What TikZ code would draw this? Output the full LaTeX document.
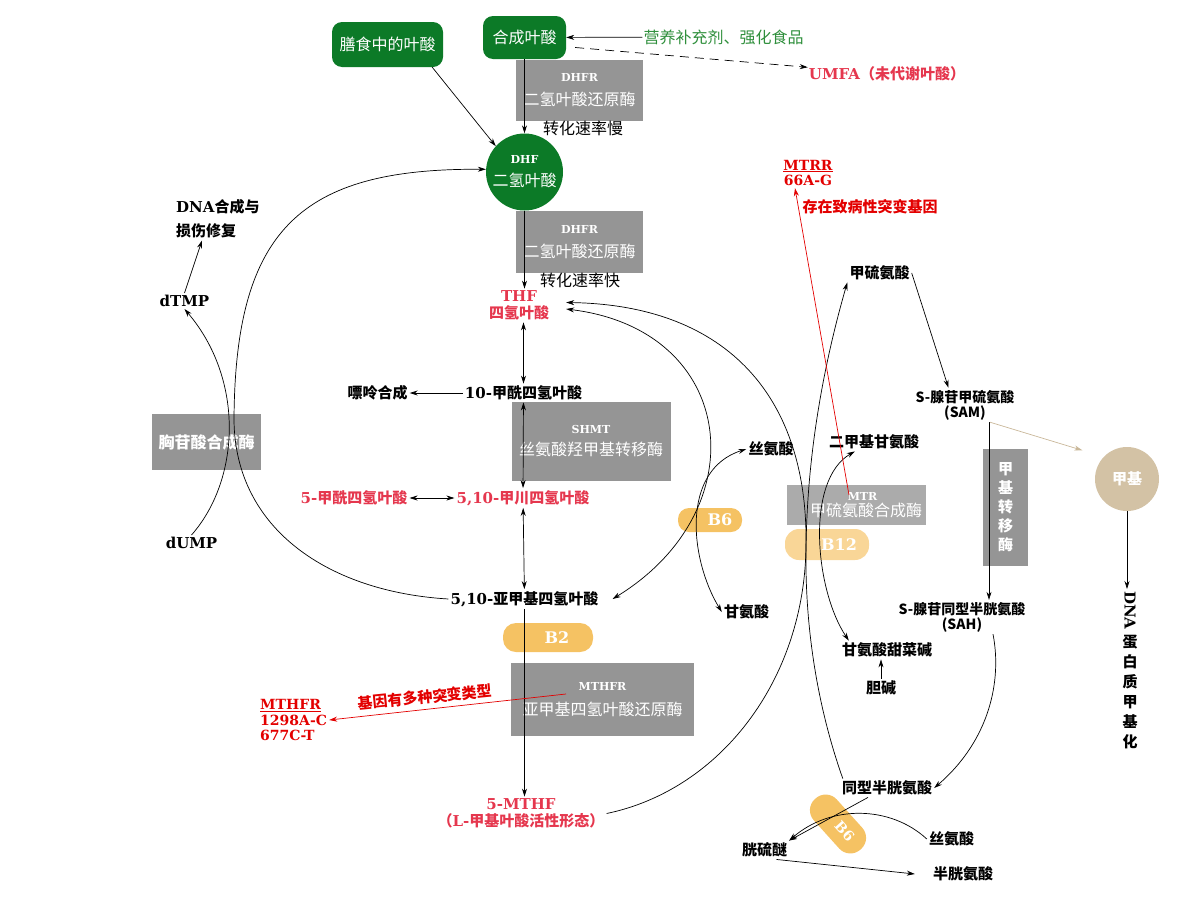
\documentclass[tikz,border=0pt]{standalone}
\usepackage{fontspec}
\setmainfont{Noto Sans CJK SC}
\newfontfamily\lat{DejaVu Serif}
\usetikzlibrary{arrows.meta}

\definecolor{leafgreen}{HTML}{0C7A27}
\definecolor{suppgreen}{HTML}{2F8F3C}
\definecolor{folred}{HTML}{E5374E}
\definecolor{genered}{HTML}{E30000}
\definecolor{enzgray}{HTML}{959595}
\definecolor{mtrgray}{HTML}{ABABAB}
\definecolor{vitorange}{HTML}{F5C263}
\definecolor{vitlight}{HTML}{F9D697}
\definecolor{methtan}{HTML}{D3C2A5}
\definecolor{tanline}{HTML}{C9B799}

\newcommand\enzlabel[2]{{\lat\bfseries\fontsize{11}{13}\selectfont #1}\\#2}

\tikzset{
  flow/.style={-{Stealth[length=8pt,width=5pt]},line width=0.7pt},
  both/.style={{Stealth[length=8pt,width=5pt]}-{Stealth[length=8pt,width=5pt]},line width=0.7pt},
  folbox/.style={fill=leafgreen,text=white,rounded corners=10pt,inner sep=0pt,font=\fontsize{16}{18}\selectfont},
  enzbox/.style={fill=enzgray,text=white,inner sep=0pt,align=center,font=\fontsize{16}{24}\selectfont},
  pill/.style={fill=vitorange,text=white,inner sep=0pt,rounded corners=13pt,font=\lat\bfseries\fontsize{16}{16}\selectfont},
  metab/.style={inner sep=2pt,font=\bfseries\fontsize{15}{17}\selectfont},
  folate/.style={metab,text=folred,align=center},
  note/.style={inner sep=1pt,font=\fontsize{16}{18}\selectfont},
  gene/.style={text=genered,inner sep=2pt,font=\lat\bfseries\fontsize{14}{15.5}\selectfont},
  genenote/.style={text=genered,inner sep=1pt,font=\bfseries\fontsize{15}{17}\selectfont},
}

\begin{document}
\begin{tikzpicture}[x=1pt,y=-1pt]
\useasboundingbox (0,0) rectangle (1200,900);
\node[folbox,minimum width=111pt,minimum height=45pt] (diet) at (387.5,44.5) {膳食中的叶酸};
\node[folbox,minimum width=83pt,minimum height=43pt] (synth) at (524.5,37.5) {合成叶酸};
\node[text=suppgreen,note] (supp) at (723.5,37) {营养补充剂、强化食品};
\node[text=folred,inner sep=1pt,font=\bfseries\fontsize{15}{17}\selectfont] (umfa) at (887,74) {{\lat UMFA}（未代谢叶酸）};
\node[enzbox,minimum width=127pt,minimum height=61pt] (dhfr1) at (579.5,90.5) {\enzlabel{DHFR}{二氢叶酸还原酶}};
\node[note] (slow) at (583,128) {转化速率慢};
\node[circle,fill=leafgreen,text=white,minimum size=77pt,inner sep=0pt,align=center,font=\fontsize{16}{23}\selectfont] (dhf) at (524.5,172) {\enzlabel{DHF}{二氢叶酸}};
\node[enzbox,minimum width=127pt,minimum height=62pt] (dhfr2) at (579.5,242) {\enzlabel{DHFR}{二氢叶酸还原酶}};
\node[note] (fast) at (580,280) {转化速率快};
\node[folate,inner xsep=17pt] (thf) at (519,305.5) {{\lat THF}\\四氢叶酸};
\node[metab] (fmthf) at (523.5,393) {{\lat 10-}甲酰四氢叶酸};
\node[metab] (purine) at (377.5,393) {嘌呤合成};
\node[enzbox,minimum width=159pt,minimum height=79pt,font=\fontsize{16}{22}\selectfont] (shmt) at (591,441.5) {\enzlabel{SHMT}{丝氨酸羟甲基转移酶}};
\node[folate] (methenyl) at (523,498) {{\lat 5,10-}甲川四氢叶酸};
\node[folate] (formyl) at (354,498) {{\lat 5-}甲酰四氢叶酸};
\node[metab] (methylene) at (524.5,599) {{\lat 5,10-}亚甲基四氢叶酸};
\node[pill,minimum width=90pt,minimum height=29pt] (b2) at (548,637.5) {\hspace*{18pt}B2};
\node[enzbox,minimum width=183pt,minimum height=73pt,font=\fontsize{16}{25}\selectfont] (mthfr) at (602.5,699.5) {\enzlabel{MTHFR}{亚甲基四氢叶酸还原酶}};
\node[folate] (mthf) at (521,813.5) {{\lat 5-MTHF}\\（{\lat L-}甲基叶酸活性形态）};
\node[gene,align=left,anchor=west] (mthfrgene) at (258,720) {\underline{MTHFR}\\1298A-C\\677C-T};
\node[genenote,rotate=5.6] (mthfrnote) at (425,697) {基因有多种突变类型};
\node[enzbox,minimum width=109pt,minimum height=56pt,font=\bfseries\fontsize{16}{18}\selectfont] (thys) at (206.5,442) {胸苷酸合成酶};
\node[metab,font=\lat\bfseries\fontsize{15}{17}\selectfont] (dump) at (191.5,543) {dUMP};
\node[metab,font=\lat\bfseries\fontsize{15}{17}\selectfont] (dtmp) at (184.5,301) {dTMP};
\node[metab,align=left,anchor=west,font=\bfseries\fontsize{15}{24}\selectfont] (dnarepair) at (174,219) {{\lat DNA}合成与\\损伤修复};
\node[metab] (met) at (879.5,273) {甲硫氨酸};
\node[metab,align=center,font=\bfseries\fontsize{14}{15}\selectfont] (sam) at (965,405) {S-腺苷甲硫氨酸\\(SAM)};
\node[metab,align=center,font=\bfseries\fontsize{14}{15}\selectfont] (sah) at (962,617) {S-腺苷同型半胱氨酸\\(SAH)};
\node[enzbox,minimum width=45pt,minimum height=117pt,font=\bfseries\fontsize{15}{19}\selectfont] (mtase) at (1005.5,507.5) {甲\\基\\转\\移\\酶};
\node[circle,fill=methtan,text=white,minimum size=64pt,inner sep=0pt,font=\bfseries\fontsize{15}{17}\selectfont] (methyl) at (1127,479) {甲基};
\node[metab,align=center,anchor=north,font=\bfseries\fontsize{15}{20}\selectfont] (dnameth) at (1130,589) {\rotatebox{-90}{\lat DNA}\\[5pt]蛋\\白\\质\\甲\\基\\化};
\node[metab] (dmg) at (874,442) {二甲基甘氨酸};
\node[metab] (ser) at (771,449) {丝氨酸};
\node[metab] (gly) at (746.5,612) {甘氨酸};
\node[pill,minimum width=64pt,minimum height=24pt,rounded corners=11pt] (b6) at (710,520) {\hspace*{20pt}B6};
\node[fill=mtrgray,text=white,inner sep=0pt,minimum width=139pt,minimum height=40pt,align=center,font=\fontsize{16}{16}\selectfont] (mtr) at (856.5,505) {\hspace*{12pt}{\lat\bfseries\fontsize{11}{12}\selectfont MTR}\\\hspace*{19pt}甲硫氨酸合成酶};
\node[pill,fill=vitlight,minimum width=84pt,minimum height=31pt,rounded corners=14pt] (b12) at (827,544.5) {\hspace*{24pt}B12};
\node[metab] (betaine) at (887,650) {甘氨酸甜菜碱};
\node[metab] (choline) at (881,688) {胆碱};
\node[metab] (hcy) at (887,788) {同型半胱氨酸};
\node[metab] (cysta) at (764.5,850) {胱硫醚};
\node[metab] (ser2) at (951.5,839) {丝氨酸};
\node[metab] (cys) at (963,874) {半胱氨酸};
\node[pill,rotate=-48,minimum width=68pt,minimum height=31pt,rounded corners=15pt,font=\lat\bfseries\fontsize{14}{14}\selectfont] (b6cys) at (838,824) {\hspace*{20pt}B6};
\node[gene,align=center] (mtrr) at (808,173) {\underline{MTRR}\\66A-G};
\node[genenote] (mtrrnote) at (870,207) {存在致病性突变基因};
\draw[flow] (supp) -- (synth);
\draw[flow,dash pattern=on 9pt off 6pt] ([shift={(9,10)}]synth.east) -- (umfa);
\draw[flow] (synth) -- (dhf);
\draw[flow] ([xshift=-11pt]diet.south east) -- (dhf.138);
\draw[flow] (dhf) -- (dhf |- thf.north);
\draw[both] (thf.south -| fmthf) -- (fmthf);
\draw[flow] (fmthf) -- (purine);
\draw[both] (fmthf) -- (methenyl);
\draw[both] (formyl) -- (methenyl);
\draw[both] (methenyl) -- (methylene);
\draw[flow] (methylene) -- (methylene |- mthf.north);
\draw[flow] (methylene.west) .. controls (330,592) and (235,530) .. (234,420) .. controls (235,230) and (300,168) .. (dhf.176);
\draw[flow] (dump.north) .. controls (240,480) and (245,380) .. (dtmp.south);
\draw[flow] (dtmp.north) -- ([xshift=28pt]dnarepair.south west);
\draw[flow] (mthf.east) .. controls (720,790) and (805,680) .. (806,545) .. controls (808,400) and (730,305) .. ([yshift=3pt]thf.east);
\draw[both] ([yshift=-3.5pt]thf.east) .. controls (738,330) and (758,510) .. ([xshift=12pt]methylene.east);
\draw[both] (gly.west) .. controls (690,560) and (680,470) .. (ser.west);
\draw[flow] ([xshift=3pt]hcy.north west) .. controls (815,700) and (805,620) .. (806,550) .. controls (807,450) and (825,360) .. (met.south west);
\draw[both] ([xshift=9pt]betaine.north west) .. controls (815,590) and (805,480) .. ([xshift=28pt]dmg.south west);
\draw[flow] (choline) -- (choline |- betaine.south);
\draw[flow] (met.east) -- ([xshift=35pt]sam.north west);
\draw[flow] ([xshift=24pt]sam.south) -- ([xshift=24pt]sam.south |- sah.north);
\draw[flow,tanline] ([xshift=25pt]sam.south) -- ([shift={(-20,-8)}]methyl.140);
\draw[flow] (methyl) -- (methyl |- dnameth.north);
\draw[flow] ([xshift=31pt]sah.south) .. controls (1002,680) and (990,740) .. (hcy.east);
\draw[flow,genered] ([shift={(-7.5,-10)}]mtr.center) -- ([xshift=-13pt]mtrr.south);
\draw[flow,genered] ([shift={(-36.5,-5.5)}]mthfr.center) -- (mthfrgene.east);
\draw[flow] ([xshift=-19pt]hcy.south) -- (cysta.north east);
\draw[flow] (ser2.west) .. controls (890,805) and (830,805) .. (cysta.north east);
\draw[flow] ([xshift=12pt]cysta.south) -- ([xshift=-16pt]cys.west);
\end{tikzpicture}
\end{document}
